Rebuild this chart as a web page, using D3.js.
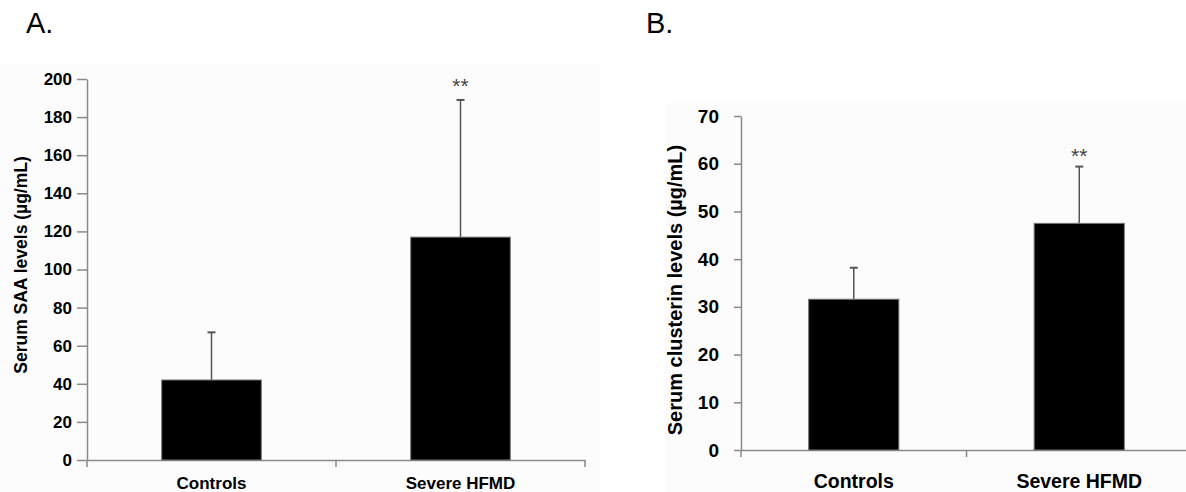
<!DOCTYPE html>
<html>
<head>
<meta charset="utf-8">
<script src="https://cdn.jsdelivr.net/npm/d3@7"></script>
<style>
  body { margin: 0; background: #ffffff; }
  text { font-family: "Liberation Sans", Arial, sans-serif; }
</style>
</head>
<body>
<div id="chart"></div>
<script>
// data
const categories = ["Controls", "Severe HFMD"]
const saaMeans = [42, 117]
const saaSD = [67, 189]
const saaTicks = [0, 20, 40, 60, 80, 100, 120, 140, 160, 180, 200]
const clusterinMeans = [31.6, 47.5]
const clusterinSD = [38.2, 59.4]
const clusterinTicks = [0, 10, 20, 30, 40, 50, 60, 70]
const stars = ["", "**"]

const width = 1186
const height = 492

let svg = d3.select("#chart")
  .append("svg")
  .attr("width", width)
  .attr("height", height)

function drawPanel(opt) {
  let g = svg.append("g")

  // faint background of the pasted plot image
  g.append("rect")
    .attr("x", opt.bg[0]).attr("y", opt.bg[1])
    .attr("width", opt.bg[2]).attr("height", opt.bg[3])
    .attr("fill", "#fcfcfc")

  g.append("text")
    .attr("x", opt.letterX)
    .attr("y", 33)
    .attr("font-size", 29)
    .text(opt.letter)

  let y = d3.scaleLinear()
    .domain([0, d3.max(opt.ticks)])
    .range([opt.bottom, opt.top])

  let x = d3.scaleBand()
    .domain(categories)
    .range([opt.left, opt.right])
    .padding(0)

  // y axis
  let yAxis = g.append("g")
    .attr("transform", "translate(" + opt.left + ",0)")
    .call(d3.axisLeft(y).tickValues(opt.ticks).tickSize(opt.tickLen).tickSizeOuter(0).tickPadding(opt.tickPad))
  yAxis.select(".domain").attr("stroke", "#8a8a8a").attr("stroke-width", 1.5)
  yAxis.selectAll(".tick line").attr("stroke", "#8a8a8a").attr("stroke-width", 1.5)
  yAxis.selectAll(".tick text")
    .attr("font-size", opt.tickFont)
    .attr("font-weight", "bold")
    .attr("fill", "#000")
    .style("font-family", "'Liberation Sans', Arial, sans-serif")

  // x axis line
  let xAxis = g.append("g")
    .attr("transform", "translate(0," + opt.bottom + ")")
    .call(d3.axisBottom(x).tickSize(0).tickSizeOuter(0).tickPadding(opt.catPad))
  xAxis.select(".domain").attr("stroke", "#8a8a8a").attr("stroke-width", 1.5)
  xAxis.selectAll(".tick text")
    .attr("font-size", opt.catFont)
    .attr("font-weight", "bold")
    .attr("fill", "#000")
    .style("font-family", "'Liberation Sans', Arial, sans-serif")

  // separator ticks at band edges
  let edges = categories.map(c => x(c)).concat([x.range()[1]])
  g.append("g")
    .selectAll("line")
    .data(edges)
    .join("line")
    .attr("x1", d => d).attr("x2", d => d)
    .attr("y1", opt.bottom).attr("y2", opt.bottom + 7)
    .attr("stroke", "#8a8a8a")
    .attr("stroke-width", 1.5)

  let barW = x.bandwidth() * 0.4
  let data = categories.map((c, i) => ({ cat: c, mean: opt.means[i], sd: opt.sd[i], star: stars[i] }))

  // error bars (upper only)
  g.append("g")
    .selectAll("line")
    .data(data)
    .join("line")
    .attr("x1", d => x(d.cat) + x.bandwidth() / 2)
    .attr("x2", d => x(d.cat) + x.bandwidth() / 2)
    .attr("y1", d => y(d.mean))
    .attr("y2", d => y(d.sd))
    .attr("stroke", "#555")
    .attr("stroke-width", 1.5)

  g.append("g")
    .selectAll("line")
    .data(data)
    .join("line")
    .attr("x1", d => x(d.cat) + x.bandwidth() / 2 - 4)
    .attr("x2", d => x(d.cat) + x.bandwidth() / 2 + 4)
    .attr("y1", d => y(d.sd))
    .attr("y2", d => y(d.sd))
    .attr("stroke", "#555")
    .attr("stroke-width", 2)

  // bars
  g.append("g")
    .selectAll("rect")
    .data(data)
    .join("rect")
    .attr("x", d => x(d.cat) + (x.bandwidth() - barW) / 2)
    .attr("y", d => y(d.mean))
    .attr("width", barW)
    .attr("height", d => y(0) - y(d.mean))
    .attr("fill", "#000")
    .attr("stroke", "#777")
    .attr("stroke-width", 1)

  // significance
  g.append("g")
    .selectAll("text")
    .data(data)
    .join("text")
    .attr("x", d => x(d.cat) + x.bandwidth() / 2)
    .attr("y", d => y(d.sd) + opt.starDy)
    .attr("text-anchor", "middle")
    .attr("font-size", 21)
    .attr("fill", "#444")
    .text(d => d.star)

  // y label
  g.append("text")
    .attr("transform", "translate(" + opt.labelX + "," + opt.labelY + ") rotate(-90)")
    .attr("text-anchor", "middle")
    .attr("dominant-baseline", "middle")
    .attr("font-size", opt.labelFont)
    .attr("font-weight", "bold")
    .text(opt.label)
}

drawPanel({
  letter: "A.", letterX: 26,
  bg: [0, 64, 600, 428],
  left: 87, right: 585, top: 79, bottom: 460,
  ticks: saaTicks, means: saaMeans, sd: saaSD,
  tickLen: 10, tickPad: 5, tickFont: 17,
  catFont: 17, catPad: 17,
  labelFont: 17.5, labelX: 22, labelY: 265,
  starDy: -7,
  label: "Serum SAA levels (µg/mL)"
})

drawPanel({
  letter: "B.", letterX: 646,
  bg: [665, 103, 521, 389],
  left: 741, right: 1192, top: 116, bottom: 450,
  ticks: clusterinTicks, means: clusterinMeans, sd: clusterinSD,
  tickLen: 7, tickPad: 15, tickFont: 19,
  catFont: 19.5, catPad: 24,
  labelFont: 20, labelX: 677, labelY: 290,
  starDy: -4,
  label: "Serum clusterin levels (µg/mL)"
})
</script>
</body>
</html>
